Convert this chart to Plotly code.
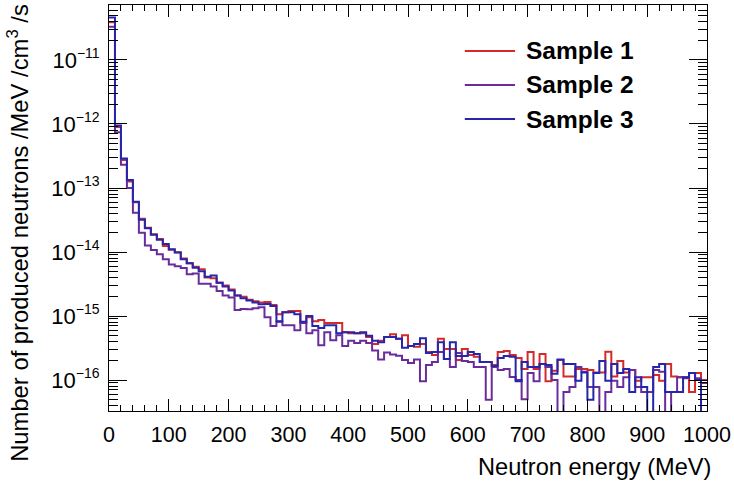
import numpy as np
import plotly.graph_objects as go

# 100 bins of 10 MeV, 0-1000 MeV
bin_edges = list(range(0, 1001, 10))

sample1 = [3.9e-11, 9.0e-13, 2.75e-13, 1.26e-13, 6.0e-14, 3.3e-14, 2.4e-14, 1.9e-14, 1.6e-14, 1.24e-14,
           1.08e-14, 9.9e-15, 7.9e-15, 6.7e-15, 5.9e-15, 5.4e-15, 4.0e-15, 3.9e-15, 3.3e-15, 3.0e-15,
           2.6e-15, 2.1e-15, 2.0e-15, 1.8e-15, 1.7e-15, 1.63e-15, 1.66e-15, 1.48e-15, 1.07e-15, 1.15e-15,
           1.2e-15, 1.2e-15, 7.8e-16, 9.6e-16, 8.3e-16, 8.7e-16, 7.8e-16, 7.8e-16, 7.8e-16, 5.6e-16,
           5.4e-16, 5.4e-16, 5.4e-16, 4.7e-16, 3.65e-16, 4.1e-16, 4.7e-16, 5.2e-16, 4.4e-16, 5.0e-16,
           3.4e-16, 3.3e-16, 3.65e-16, 2.74e-16, 2.46e-16, 4.4e-16, 3.05e-16, 3.05e-16, 2.05e-16, 3.05e-16,
           2.46e-16, 2.3e-16, 1.91e-16, 1.91e-16, 1.71e-16, 2.74e-16, 2.85e-16, 2.46e-16, 2.21e-16, 1.49e-16,
           2.74e-16, 1.49e-16, 2.55e-16, 9.6e-17, 1.4e-16, 2.05e-16, 1.13e-16, 1.13e-16, 1.49e-16, 1.49e-16,
           1.43e-16, 1.31e-16, 1.31e-16, 2.77e-16, 1.13e-16, 1.98e-16, 1.31e-16, 1.43e-16, 9.7e-17, 1.1e-16,
           1.1e-16, 1.2e-16, 9.7e-17, 1.78e-16, 1.13e-16, 1.1e-16, 1.1e-16, 6.5e-17, 1.29e-16, 1.0e-16]

sample2 = [3.3e-11, 7.4e-13, 2.3e-13, 1.0e-13, 4.1e-14, 2.0e-14, 1.26e-14, 1.07e-14, 9.2e-15, 7.7e-15,
           6.4e-15, 6.0e-15, 5.6e-15, 4.5e-15, 4.6e-15, 3.2e-15, 3.2e-15, 2.9e-15, 2.45e-15, 2.1e-15,
           1.95e-15, 1.24e-15, 1.29e-15, 1.27e-15, 1.32e-15, 1.37e-15, 9.6e-16, 7.0e-16, 8.1e-16, 7.2e-16,
           7.2e-16, 6.0e-16, 7.8e-16, 5.4e-16, 6.0e-16, 3.5e-16, 5.6e-16, 4.2e-16, 5.0e-16, 3.4e-16,
           4.1e-16, 3.8e-16, 4.1e-16, 3.8e-16, 2.9e-16, 2.1e-16, 2.7e-16, 2.5e-16, 2.4e-16, 2.05e-16,
           1.84e-16, 2.1e-16, 9.6e-17, 1.71e-16, 1.91e-16, 2.74e-16, 2.13e-16, 1.6e-16, 2.64e-16, 1.98e-16,
           1.91e-16, 1.6e-16, 1.6e-16, 4.9e-17, 1.6e-16, 1.43e-16, 1.49e-16, 1.11e-16, 1.0e-16, 5.0e-17,
           1.29e-16, 9.6e-17, 1.78e-16, 1.6e-16, 1.0e-16, 0, 6.5e-17, 7.8e-17, 1.6e-16, 1.35e-16,
           7.8e-17, 7.8e-17, 0, 6.5e-17, 9.7e-17, 7.8e-17, 1.1e-16, 1.43e-16, 7.8e-17, 6.5e-17,
           6.5e-17, 1.43e-16, 1.35e-16, 0, 6.5e-17, 1.1e-16, 1.07e-16, 1.29e-16, 1.07e-16, 9.0e-17]

sample3 = [4.6e-11, 9.5e-13, 2.9e-13, 1.33e-13, 6.1e-14, 3.2e-14, 2.34e-14, 1.86e-14, 1.55e-14, 1.33e-14,
           1.1e-14, 9.8e-15, 7.7e-15, 6.7e-15, 5.7e-15, 5.0e-15, 4.1e-15, 4.3e-15, 3.3e-15, 2.9e-15,
           2.5e-15, 2.1e-15, 1.9e-15, 1.74e-15, 1.63e-15, 1.52e-15, 1.54e-15, 1.43e-15, 8.3e-16, 1.15e-15,
           1.15e-15, 1.07e-15, 8.1e-16, 1.0e-15, 7.0e-16, 6.5e-16, 7.2e-16, 7.2e-16, 5.4e-16, 5.6e-16,
           5.6e-16, 5.4e-16, 5.6e-16, 4.9e-16, 4.1e-16, 3.9e-16, 4.7e-16, 4.7e-16, 4.4e-16, 3.2e-16,
           3.4e-16, 3.65e-16, 4.5e-16, 2.64e-16, 2.74e-16, 3.9e-16, 2.13e-16, 3.9e-16, 2.37e-16, 2.37e-16,
           2.74e-16, 2.55e-16, 1.91e-16, 1.91e-16, 1.66e-16, 2.21e-16, 2.37e-16, 2.3e-16, 9.6e-17, 1.91e-16,
           1.6e-16, 1.6e-16, 1.78e-16, 1.71e-16, 1.25e-16, 2.1e-16, 1.78e-16, 1.78e-16, 9.7e-17, 1.31e-16,
           4.9e-17, 1.29e-16, 1.98e-16, 9.7e-17, 1.78e-16, 1.29e-16, 1.49e-16, 6.5e-17, 1.1e-16, 7.8e-17,
           0, 1.6e-16, 1.78e-16, 6.5e-17, 6.5e-17, 6.5e-17, 1.1e-16, 1.29e-16, 1.0e-16, 0]

names = ["Sample 1", "Sample 2", "Sample 3"]
colors = ["#d42a2a", "#6a2c9c", "#2626aa"]

ytick_vals = [1e-16, 1e-15, 1e-14, 1e-13, 1e-12, 1e-11]
ytick_exp = ["\u221216", "\u221215", "\u221214", "\u221213", "\u221212", "\u221211"]

FONT = "Liberation Sans, Arial, sans-serif"


def step_trace(values, color, name):
    # empty bins drop below the axis like ROOT does
    y = np.where(np.array(values) > 0, values, 1e-25)
    y = list(y) + [y[-1]]
    return go.Scatter(x=bin_edges, y=y, mode="lines", line=dict(color=color, width=2, shape="hv"),
                      name=name, showlegend=False, hoverinfo="skip")


fig = go.Figure()
for vals, col, nm in zip([sample1, sample2, sample3], colors, names):
    fig.add_trace(step_trace(vals, col, nm))

fig.update_layout(
    width=734, height=485,
    margin=dict(l=109, r=27, t=5, b=74),
    paper_bgcolor="white", plot_bgcolor="white",
    font=dict(family=FONT, size=21, color="black"),
)

fig.update_xaxes(
    range=[0, 1000], dtick=100, tick0=0, automargin=False,
    showline=True, linecolor="black", linewidth=1, mirror="ticks",
    ticks="inside", ticklen=12, tickcolor="black", tickwidth=1,
    minor=dict(dtick=20, ticks="inside", ticklen=6, tickcolor="black", showgrid=False),
    showgrid=False, zeroline=False, tickfont=dict(size=21.5), ticklabelstandoff=4,
)

ytick_text = ["10<sup><span style='font-size:14px'>%s</span></sup>" % e for e in ytick_exp]
fig.update_yaxes(
    type="log", range=[-16.484, -10.141], tickmode="array", tickvals=ytick_vals, ticktext=ytick_text,
    automargin=False,
    showline=True, linecolor="black", linewidth=1, mirror="ticks",
    ticks="inside", ticklen=18, tickcolor="black", tickwidth=1,
    minor=dict(dtick="D1", ticks="inside", ticklen=9, tickcolor="black", showgrid=False),
    showgrid=False, zeroline=False, tickfont=dict(size=22), ticklabelstandoff=4,
)

# legend drawn by hand, ROOT style (long line samples, bold text)
legend_y = [0.887, 0.803, 0.719]
for nm, col, ly in zip(names, colors, legend_y):
    fig.add_shape(type="line", xref="paper", yref="paper", x0=0.595, x1=0.679, y0=ly, y1=ly,
                  line=dict(color=col, width=2))
    fig.add_annotation(text="<b>%s</b>" % nm, xref="paper", yref="paper", x=0.694, y=ly,
                       xanchor="left", yanchor="middle", showarrow=False,
                       font=dict(family=FONT, size=24.5, color="black"))

fig.add_annotation(text="Neutron energy (MeV)", xref="paper", yref="paper", x=1.01, y=-0.138,
                   xanchor="right", yanchor="middle", showarrow=False,
                   font=dict(family=FONT, size=23.6, color="black"))
fig.add_annotation(text="Number of produced neutrons /MeV /cm<sup>3</sup> /s", xref="paper", yref="paper",
                   x=-0.152, y=1.008, xanchor="center", yanchor="top", textangle=-90, showarrow=False,
                   font=dict(family=FONT, size=23.8, color="black"))

# page body margin would push the figure off the window
fig.write_html("out.html", config={"displayModeBar": False},
               post_script="document.body.style.margin='0';")
